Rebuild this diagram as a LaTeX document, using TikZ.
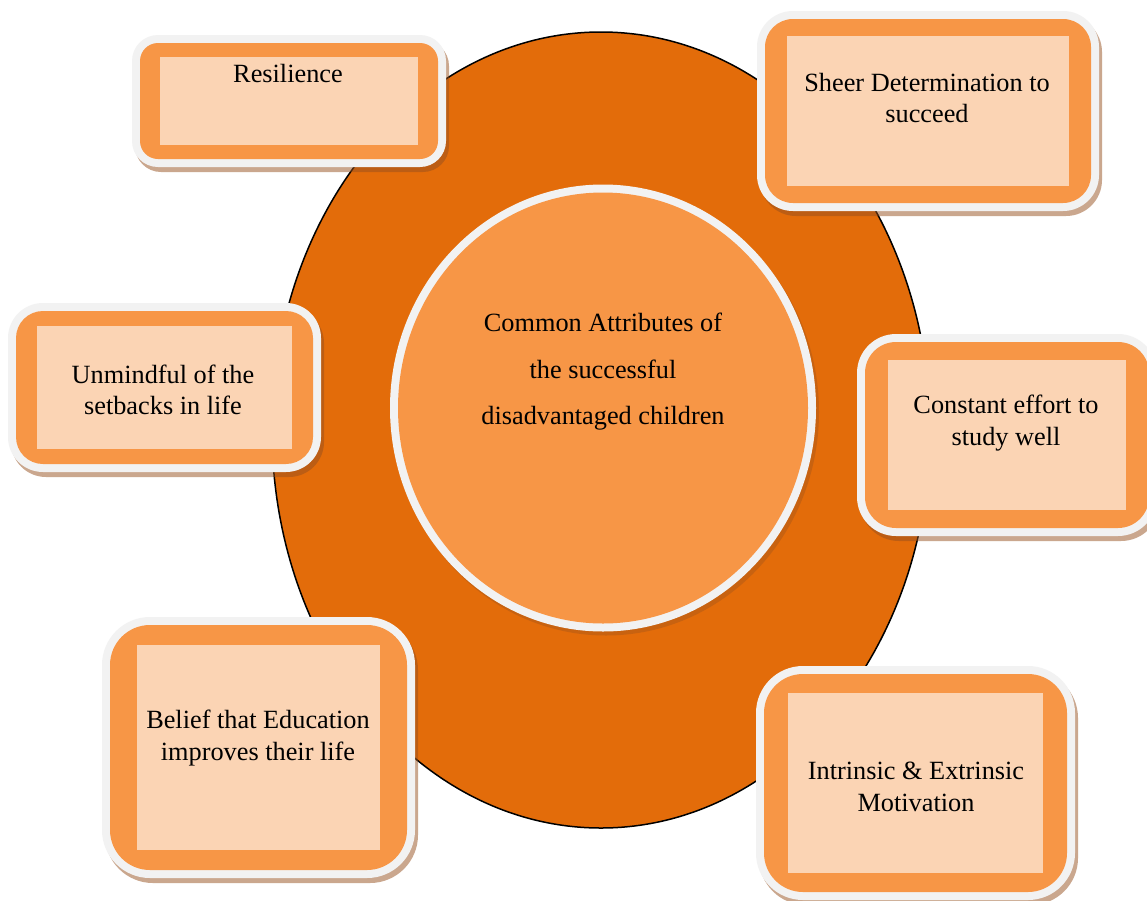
\documentclass[tikz,border=0pt]{standalone}
\usepackage{fontspec}
\setmainfont{Liberation Serif}
\definecolor{darkorange}{HTML}{E36C0A}
\definecolor{midorange}{HTML}{F79646}
\definecolor{peach}{HTML}{FBD4B4}
\definecolor{framegray}{HTML}{F2F2F2}
\definecolor{shadowbrown}{RGB}{150,80,30}
\tikzset{
  boxshadow/.style={fill=shadowbrown, fill opacity=0.5},
  boxframe/.style={fill=framegray},
  boxband/.style={fill=midorange},
  boxface/.style={fill=peach},
  boxtext/.style={align=center, font=\fontsize{26.3}{31.5}\selectfont, text=black, inner sep=0pt},
  hubtext/.style={align=center, font=\fontsize{26.3}{46.5}\selectfont, text=black, inner sep=0pt},
}
\newcommand\attrbox[7]{%
  \pgfmathsetmacro\innerr{#5-8}%
  \fill[boxshadow, rounded corners=#5pt] ({#1+3},{#2+5}) rectangle ({#3+3},{#4+5});
  \fill[boxframe, rounded corners=#5pt] (#1,#2) rectangle (#3,#4);
  \fill[boxband, rounded corners=\innerr pt] ({#1+8},{#2+8}) rectangle ({#3-8},{#4-8});
  \fill[boxface] ({#1+#6},{#2+#7}) rectangle ({#3-#6},{#4-#7});
}
\begin{document}
\begin{tikzpicture}[x=1pt,y=-1pt]
\useasboundingbox (0,0) rectangle (1147,900);
\clip (0,0) rectangle (1147,900);
\fill[white] (0,0) rectangle (1147,900);
% outer ellipse
\draw[fill=darkorange, draw=black, line width=1.5pt] (601,430) ellipse [x radius=329, y radius=398];
% hub circle
\fill[shadowbrown, fill opacity=0.35] (606,412) ellipse [x radius=213, y radius=223.5];
\fill[framegray] (603,408) ellipse [x radius=213, y radius=223.5];
\fill[midorange] (603,408) ellipse [x radius=205, y radius=215.5];
% boxes
\attrbox{132}{35}{446}{167}{26}{28}{22}
\attrbox{757}{11}{1099}{211}{36}{30}{25}
\attrbox{8}{303}{321}{472}{35}{29}{23}
\attrbox{857}{334}{1157}{536}{39}{31}{26}
\attrbox{102}{617}{415}{878}{48}{35}{28}
\attrbox{756}{666}{1075}{900}{47}{32}{27}
% texts
\node[hubtext] (hub) at (603,372) {Common Attributes of\\the successful\\disadvantaged children};
\node[boxtext] (resilience) at (288,74) {Resilience};
\node[boxtext] (sheer) at (927,98) {Sheer Determination to\\succeed};
\node[boxtext] (unmindful) at (163,390) {Unmindful of the\\setbacks in life};
\node[boxtext] (constant) at (1006,423) {Constant effort to\\study well};
\node[boxtext] (belief) at (258,738) {Belief that Education\\improves their life};
\node[boxtext] (intrinsic) at (916,787) {Intrinsic \& Extrinsic\\Motivation};
\end{tikzpicture}
\end{document}
